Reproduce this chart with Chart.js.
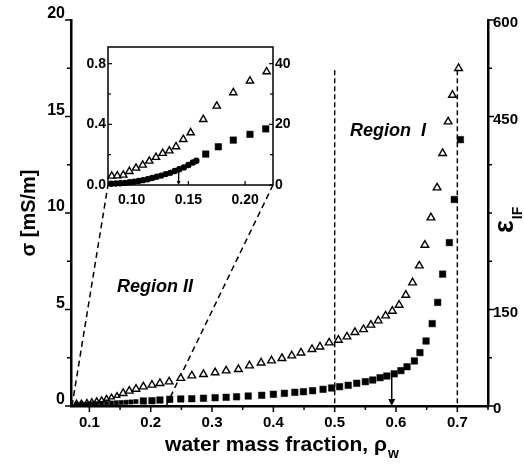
<!DOCTYPE html>
<html><head><meta charset="utf-8">
<script src="https://cdn.jsdelivr.net/npm/chart.js@4.4.1/dist/chart.umd.min.js"></script>
<style>
html,body{margin:0;padding:0;background:#fff;}
#wrap{position:relative;width:524px;height:472px;overflow:hidden;}
#main{position:absolute;left:0;top:0;}
#inset{position:absolute;left:60px;top:30px;}
</style></head><body>
<div id="wrap"><canvas id="main" width="524" height="472"></canvas><canvas id="inset" width="250" height="190"></canvas></div>
<script>
const FONT = '"Liberation Sans", Arial, Helvetica, sans-serif';

// ---------- main plot data ----------
// open triangles: conductivity sigma [mS/m] (left axis)
const triX = [0.079,0.087,0.096,0.104,0.112,0.120,0.128,0.136,0.145,0.155,0.165,0.176,0.188,0.202,0.215,0.230,0.249,0.267,0.286,0.305,0.323,0.343,0.361,0.380,0.397,0.414,0.430,0.445,0.463,0.476,0.491,0.506,0.520,0.533,0.547,0.559,0.571,0.583,0.594,0.605,0.616,0.627,0.638,0.647,0.657,0.667,0.676,0.685,0.692,0.702];
const sigmaTri = [0.14,0.14,0.17,0.21,0.26,0.31,0.38,0.45,0.53,0.66,0.78,0.88,1.00,1.09,1.18,1.26,1.44,1.57,1.64,1.73,1.83,1.90,2.09,2.24,2.35,2.47,2.61,2.76,2.94,3.07,3.28,3.42,3.59,3.82,3.97,4.20,4.42,4.68,4.92,5.23,5.75,6.39,7.27,8.34,9.76,11.31,13.09,14.73,16.11,17.50];
// filled squares: permittivity eps_IF (right axis)
const sqX = [0.080,0.088,0.096,0.104,0.112,0.120,0.128,0.136,0.144,0.152,0.160,0.168,0.176,0.188,0.202,0.215,0.231,0.249,0.267,0.286,0.305,0.323,0.340,0.359,0.381,0.400,0.418,0.435,0.449,0.464,0.481,0.495,0.508,0.522,0.536,0.550,0.562,0.574,0.585,0.597,0.608,0.618,0.630,0.639,0.649,0.659,0.668,0.676,0.687,0.695,0.705];
const epsSq = [2.5,2.8,3.0,3.3,3.6,3.9,4.2,4.6,5.0,5.4,5.8,6.3,6.9,7.8,8.2,9.3,10.4,10.9,11.3,12.0,12.9,13.5,14.3,15.5,16.6,18.2,19.7,21.3,22.2,23.8,25.9,28.0,30.0,32.2,35.3,37.8,40.4,44.0,46.6,50,55,61,70,83,101,128,161,205,254,321,414];
// guide lines (data coordinates, sigma axis)
const regionLineX = [0.5, 0.5];      const regionLineY = [17.4, 0];
const edgeLineX = [0.7, 0.7];        const edgeLineY = [17.4, 0];
const zoomLeftX = [0.0716, 0.1303];  const zoomLeftY = [0, 11.45];
const zoomRightX = [0.2249, 0.3994]; const zoomRightY = [0, 11.45];
const mainArrowX = 0.593, mainArrowEps = 50;
// tick labels
const mainXTickLabels = ['0.1','0.2','0.3','0.4','0.5','0.6','0.7'];
const mainSigmaTickLabels = ['0','5','10','15','20'];
const mainEpsTickLabels = ['0','150','450','600'];

// ---------- inset data ----------
const insetTriX = [0.0824,0.0873,0.0926,0.0979,0.1038,0.1097,0.1155,0.1214,0.1273,0.1332,0.1391,0.1455,0.1520,0.1631,0.1750,0.1896,0.2043,0.2190];
const insetSigmaTri = [0.059,0.061,0.066,0.090,0.112,0.132,0.158,0.183,0.209,0.226,0.253,0.301,0.345,0.433,0.521,0.609,0.686,0.747];
const insetDenseX = [0.082,0.086,0.090,0.094,0.098,0.102,0.106,0.110,0.114,0.118,0.122,0.126,0.130,0.134,0.138,0.142,0.146,0.150,0.154,0.157];
const insetDenseEps = [0.4,0.5,0.6,0.7,0.9,1.1,1.35,1.6,1.9,2.3,2.7,3.1,3.6,4.0,4.6,5.2,5.8,6.6,7.4,8.0];
const insetSqX = [0.1653,0.1764,0.1896,0.2043,0.2182];
const insetEpsSq = [10.2,12.6,14.8,16.7,18.5];
const insetArrowX = 0.1414, insetArrowEps = 4.3;
const insetXTickLabels = ['0.10','0.15','0.20'];
const insetSigmaTickLabels = ['0.0','0.4','0.8'];
const insetEpsTickLabels = ['0','20','40'];

const pts = (xs, ys) => xs.map((x, i) => ({x, y: ys[i]}));

Chart.defaults.font.family = FONT;
Chart.defaults.color = '#000';

const tickPlugin = {
  id: 'tickMarks',
  afterDraw(chart, args, opts) {
    const ctx = chart.ctx;
    ctx.save();
    ctx.strokeStyle = '#000';
    ctx.lineWidth = opts.width || 1.5;
    for (const [id, cfg] of Object.entries(opts.axes || {})) {
      const s = chart.scales[id]; if (!s) continue;
      s.ticks.forEach(t => {
        const major = t.label !== '' && t.label != null;
        const len = major ? cfg.major : cfg.minor;
        const p = s.getPixelForValue(t.value);
        const sign = cfg.dir === 'out' ? 1 : -1;
        ctx.beginPath();
        if (s.position === 'left') { ctx.moveTo(s.right, p); ctx.lineTo(s.right - sign * len, p); }
        else if (s.position === 'right') { ctx.moveTo(s.left, p); ctx.lineTo(s.left + sign * len, p); }
        else { ctx.moveTo(p, s.top); ctx.lineTo(p, s.top + sign * len); }
        ctx.stroke();
      });
    }
    ctx.restore();
  }
};

function drawArrow(ctx, x, yTop, yBot, head) {
  ctx.beginPath();
  ctx.moveTo(x, yTop); ctx.lineTo(x, yBot - head);
  ctx.stroke();
  ctx.beginPath();
  ctx.moveTo(x - head * 0.5, yBot - head); ctx.lineTo(x + head * 0.5, yBot - head); ctx.lineTo(x, yBot);
  ctx.closePath(); ctx.fill();
}

const mainAnnot = {
  id: 'mainAnnot',
  afterDatasetsDraw(chart) {
    const {ctx, scales} = chart;
    ctx.save();
    ctx.fillStyle = '#000'; ctx.strokeStyle = '#000'; ctx.lineWidth = 1.5;
    const xa = scales.x.getPixelForValue(mainArrowX);
    drawArrow(ctx, xa, scales.y2.getPixelForValue(mainArrowEps), scales.y2.getPixelForValue(0), 7);
    ctx.font = 'italic bold 18px ' + FONT;
    ctx.textBaseline = 'alphabetic'; ctx.textAlign = 'left';
    ctx.fillText('Region  I', 350, 136);
    ctx.fillText('Region II', 117, 292);
    // x title with subscript
    ctx.font = 'bold 21px ' + FONT;
    const t1 = 'water mass fraction, \u03C1';
    const w1 = ctx.measureText(t1).width;
    ctx.font = 'bold 14px ' + FONT;
    const w2 = ctx.measureText('w').width;
    const x0 = 281.5 - (w1 + w2) / 2;
    ctx.font = 'bold 21px ' + FONT;
    ctx.fillText(t1, x0, 451);
    ctx.font = 'bold 14px ' + FONT;
    ctx.fillText('w', x0 + w1 + 1, 458);
    // right title eps_IF (rotated, reading upward)
    ctx.save();
    ctx.translate(513, 233);
    ctx.rotate(-Math.PI / 2);
    ctx.font = 'bold 27px ' + FONT;
    ctx.fillText('\u03B5', 0, 0);
    const we = ctx.measureText('\u03B5').width;
    ctx.font = 'bold 14px ' + FONT;
    ctx.fillText('IF', we + 1, 9);
    ctx.restore();
    ctx.restore();
  }
};

const lineDs = (xs, ys, dash) => ({
  type: 'scatter', data: pts(xs, ys), yAxisID: 'y', showLine: true, pointRadius: 0,
  borderColor: '#000', borderWidth: 1.5, borderDash: dash, fill: false, clip: false
});

const noGrid = { display: false, drawTicks: false };

new Chart(document.getElementById('main'), {
  type: 'scatter',
  data: {
    datasets: [
      { data: pts(sqX, epsSq), yAxisID: 'y2', pointStyle: 'rect',
        pointRadius: c => (c.raw && c.raw.x < 0.18 ? 3 : 4.6),
        pointBackgroundColor: '#000', pointBorderColor: '#000', pointBorderWidth: 0.5, clip: 8 },
      { data: pts(triX, sigmaTri), yAxisID: 'y', pointStyle: 'triangle',
        pointRadius: c => (c.raw && c.raw.x < 0.15 ? 3.2 : 4.4),
        pointBackgroundColor: '#fff', pointBorderColor: '#000', pointBorderWidth: 1.4, clip: 8 },
      lineDs(regionLineX, regionLineY, [5, 3]),
      lineDs(edgeLineX, edgeLineY, [5, 3]),
      lineDs(zoomLeftX, zoomLeftY, [6, 4]),
      lineDs(zoomRightX, zoomRightY, [6, 4])
    ]
  },
  options: {
    responsive: false, animation: false, devicePixelRatio: 1,
    layout: { padding: { top: 20, left: 0, right: 0, bottom: 0 } },
    plugins: { legend: { display: false }, tooltip: { enabled: false },
      tickMarks: { width: 1.5, axes: { x: {dir: 'out', major: 6, minor: 4}, y: {dir: 'out', major: 6, minor: 4}, y2: {dir: 'out', major: 6, minor: 4} } } },
    scales: {
      x: { type: 'linear', position: 'bottom', min: 0.07, max: 0.75,
        afterFit: s => { s.height = 66; },
        grid: noGrid, border: { display: true, width: 2.5, color: '#000' },
        ticks: { stepSize: 0.05, includeBounds: false, autoSkip: false, maxRotation: 0, padding: 8,
          font: { size: 15, weight: 'bold' }, color: '#000',
          callback: v => { const l = (Math.round(v * 100) / 100).toFixed(2).replace(/0$/, ''); return mainXTickLabels.includes(l) ? l : ''; } } },
      y: { type: 'linear', position: 'left', min: 0, max: 20,
        afterFit: s => { s.width = 71; },
        grid: noGrid, border: { display: true, width: 2.5, color: '#000' },
        ticks: { stepSize: 2.5, autoSkip: false, labelOffset: -6, padding: 6, font: { size: 16, weight: 'bold' }, color: '#000',
          callback: v => mainSigmaTickLabels.includes(String(v)) ? String(v) : '' },
        title: { display: true, text: '\u03C3 [mS/m]', font: { size: 20, weight: 'bold' }, color: '#000', padding: { top: 17, bottom: 0 } } },
      y2: { type: 'linear', position: 'right', min: 0, max: 600,
        afterFit: s => { s.width = 36; },
        grid: noGrid, border: { display: true, width: 2.5, color: '#000' },
        ticks: { stepSize: 75, autoSkip: false, labelOffset: 3, padding: 5, font: { size: 15, weight: 'bold' }, color: '#000',
          callback: v => mainEpsTickLabels.includes(String(v)) ? String(v) : '' } }
    }
  },
  plugins: [tickPlugin, mainAnnot]
});

const insetBox = {
  id: 'insetBox',
  beforeDraw(chart) {
    const {ctx, chartArea: a} = chart;
    ctx.save(); ctx.fillStyle = '#fff'; ctx.fillRect(a.left, a.top, a.right - a.left, a.bottom - a.top); ctx.restore();
  },
  afterDatasetsDraw(chart) {
    const {ctx, scales} = chart;
    ctx.save();
    ctx.fillStyle = '#000'; ctx.strokeStyle = '#000'; ctx.lineWidth = 1.3;
    drawArrow(ctx, scales.x.getPixelForValue(insetArrowX), scales.y2.getPixelForValue(insetArrowEps), scales.y2.getPixelForValue(0), 4);
    ctx.restore();
  },
  afterDraw(chart) {
    const {ctx, chartArea: a} = chart;
    ctx.save(); ctx.strokeStyle = '#000'; ctx.lineWidth = 1.5;
    ctx.strokeRect(a.left, a.top, a.right - a.left, a.bottom - a.top); ctx.restore();
  }
};

new Chart(document.getElementById('inset'), {
  type: 'scatter',
  data: {
    datasets: [
      { data: pts(insetDenseX, insetDenseEps), yAxisID: 'y2', pointStyle: 'circle', pointRadius: 3.2,
        pointBackgroundColor: '#000', pointBorderColor: '#000', pointBorderWidth: 0, clip: 4 },
      { data: pts(insetSqX, insetEpsSq), yAxisID: 'y2', pointStyle: 'rect', pointRadius: 4.6,
        pointBackgroundColor: '#000', pointBorderColor: '#000', pointBorderWidth: 0.5, clip: 4 },
      { data: pts(insetTriX, insetSigmaTri), yAxisID: 'y', pointStyle: 'triangle', pointRadius: 4.2,
        pointBackgroundColor: '#fff', pointBorderColor: '#000', pointBorderWidth: 1.4, clip: 4 }
    ]
  },
  options: {
    responsive: false, animation: false, devicePixelRatio: 1,
    layout: { padding: { top: 17, left: 0, right: 0, bottom: 0 } },
    plugins: { legend: { display: false }, tooltip: { enabled: false },
      tickMarks: { width: 1.2, axes: { x: {dir: 'in', major: 4, minor: 3}, y: {dir: 'in', major: 4, minor: 3}, y2: {dir: 'in', major: 4, minor: 3} } } },
    scales: {
      x: { type: 'linear', position: 'bottom', min: 0.0791, max: 0.2246,
        afterFit: s => { s.height = 35; },
        grid: noGrid, border: { display: false },
        ticks: { stepSize: 0.05, includeBounds: false, autoSkip: false, maxRotation: 0, padding: 7,
          font: { size: 14, weight: 'bold' }, color: '#000',
          callback: v => { const l = (Math.round(v * 100) / 100).toFixed(2); return insetXTickLabels.includes(l) ? l : ''; } } },
      y: { type: 'linear', position: 'left', min: 0, max: 0.91,
        afterFit: s => { s.width = 48; },
        grid: noGrid, border: { display: false },
        ticks: { stepSize: 0.2, includeBounds: false, autoSkip: false, padding: 2, font: { size: 14, weight: 'bold' }, color: '#000',
          callback: v => { const l = (Math.round(v * 10) / 10).toFixed(1); return insetSigmaTickLabels.includes(l) ? l : ''; } } },
      y2: { type: 'linear', position: 'right', min: 0, max: 45.5,
        afterFit: s => { s.width = 37; },
        grid: noGrid, border: { display: false },
        ticks: { stepSize: 10, includeBounds: false, autoSkip: false, padding: 2, font: { size: 14, weight: 'bold' }, color: '#000',
          callback: v => insetEpsTickLabels.includes(String(Math.round(v))) ? String(Math.round(v)) : '' } }
    }
  },
  plugins: [tickPlugin, insetBox]
});
</script>
</body></html>
